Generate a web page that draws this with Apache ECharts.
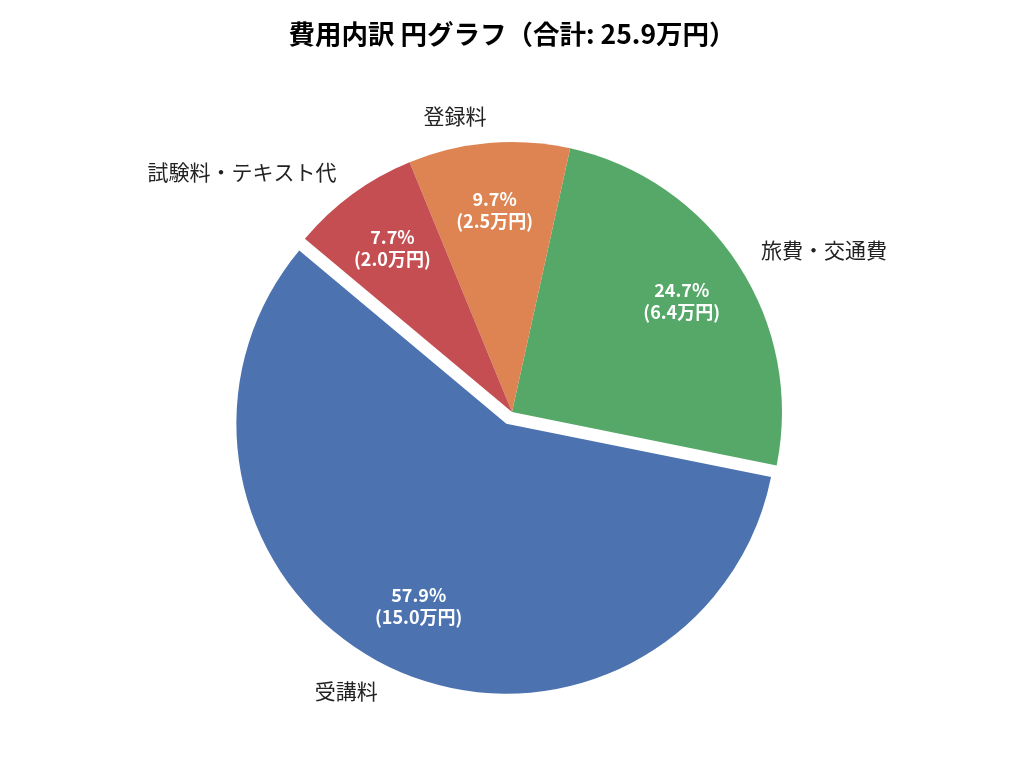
<!DOCTYPE html>
<html>
<head>
<meta charset="utf-8">
<script src="https://cdn.jsdelivr.net/npm/echarts@6/dist/echarts.min.js"></script>
<style>
html,body{margin:0;padding:0;background:#fff;}
#chart{width:1024px;height:768px;}
</style>
</head>
<body>
<div id="chart"></div>
<script>
const categories = ['受講料', '旅費・交通費', '登録料', '試験料・テキスト代'];
const values = [15.0, 6.4, 2.5, 2.0];
const colors = ['#4C72B0', '#55A868', '#DD8452', '#C44E52'];
const explodedIndex = 0;

const total = values.reduce((a, b) => a + b, 0);
const FONT = '"Noto Sans CJK JP", "Noto Sans", sans-serif';
const CENTER = [512, 412];
const R = 270;
const OFFSET = 13;
const START = 140.1;

function makeData(visible) {
  return categories.map((name, i) => ({
    name: name,
    value: values[i],
    selected: i === explodedIndex,
    itemStyle: { color: visible ? colors[i] : 'rgba(0,0,0,0)' }
  }));
}

const base = {
  type: 'pie',
  center: CENTER,
  startAngle: START,
  clockwise: false,
  selectedMode: 'single',
  selectedOffset: OFFSET,
  avoidLabelOverlap: false,
  animation: false,
  emphasis: { disabled: true },
  select: { disabled: false }
};

const chart = echarts.init(document.getElementById('chart'));
chart.setOption({
  backgroundColor: '#ffffff',
  title: {
    text: '費用内訳 円グラフ（合計: ' + total.toFixed(1) + '万円）',
    left: 'center',
    top: 16,
    textStyle: { fontFamily: FONT, fontSize: 26.5, fontWeight: 'bold', color: '#000' }
  },
  series: [
    Object.assign({}, base, {
      name: 'pie',
      radius: [0, R],
      z: 2,
      label: { show: false },
      labelLine: { show: false },
      data: makeData(true)
    }),
    Object.assign({}, base, {
      name: 'names',
      radius: [0, R * 1.1],
      silent: true,
      z: 3,
      label: {
        show: true,
        position: 'outside',
        distanceToLabelLine: 0,
        fontFamily: FONT,
        fontSize: 21,
        color: '#222',
        formatter: '{b}'
      },
      labelLine: { show: false, length: 0, length2: 0 },
      data: makeData(false)
    }),
    Object.assign({}, base, {
      name: 'pct',
      radius: [0, R * 1.5 - 6],
      silent: true,
      z: 4,
      label: {
        show: true,
        position: 'inside',
        fontFamily: FONT,
        fontSize: 18,
        fontWeight: 'bold',
        lineHeight: 22,
        color: '#fff',
        formatter: p => (p.value / total * 100).toFixed(1) + '%\n(' + p.value.toFixed(1) + '万円)'
      },
      labelLine: { show: false },
      data: makeData(false)
    })
  ]
});
</script>
</body>
</html>
